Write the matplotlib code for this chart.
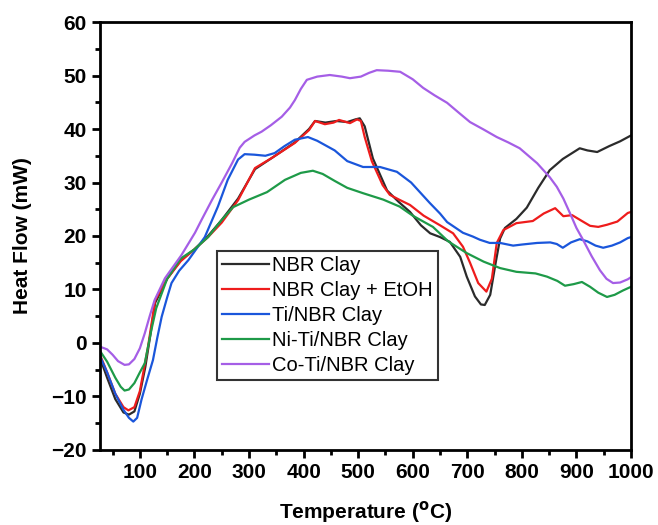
import numpy as np
import matplotlib
matplotlib.use("Agg")
import matplotlib.pyplot as plt
from matplotlib.ticker import MultipleLocator

plt.rcParams['font.family'] = ['Liberation Sans', 'DejaVu Sans']

# ---------------------------------------------------------
# datos (T en C, flujo en mW)
# ---------------------------------------------------------
t_nbr = [27, 40, 55, 70, 80, 90, 100, 110, 120, 128, 150, 175, 200, 225, 250,
         280, 311, 342, 384, 410, 421, 440, 460, 480, 495, 503, 512, 527, 553,
         575, 595, 615, 632, 650, 668, 687, 699, 714, 725, 732, 742, 752, 760,
         769, 790, 809, 830, 851, 875, 906, 920, 938, 960, 980, 1000]
hf_nbr = [-2.8, -6.5, -10.5, -13.0, -13.4, -12.8, -9.5, -4.5, 2.0, 7.5, 12.0,
          15.5, 17.5, 20.0, 23.0, 27.0, 32.5, 34.6, 37.5, 40.0, 41.5, 41.2,
          41.5, 41.3, 41.8, 42.0, 40.5, 34.5, 28.5, 26.3, 24.5, 22.0, 20.5,
          19.8, 18.9, 16.1, 12.4, 8.7, 7.2, 7.1, 9.0, 15.0, 19.5, 21.5, 23.2,
          25.3, 29.0, 32.3, 34.4, 36.4, 36.0, 35.7, 36.8, 37.7, 38.8]

t_etoh = [27, 40, 55, 70, 79, 90, 100, 115, 128, 150, 175, 200, 225, 250, 280,
          311, 342, 384, 410, 421, 439, 455, 465, 485, 498, 505, 512, 525, 545,
          558, 575, 595, 620, 650, 674, 692, 705, 720, 735, 745, 754, 766, 790,
          820, 840, 861, 876, 892, 910, 925, 940, 956, 975, 994, 1000]
hf_etoh = [-2.2, -5.5, -9.5, -12.0, -12.6, -12.0, -9.0, -0.7, 8.0, 12.0, 15.3,
           17.5, 19.8, 22.5, 26.7, 32.7, 34.6, 37.4, 39.8, 41.5, 40.9, 41.2,
           41.7, 41.1, 41.8, 41.5, 38.5, 34.0, 29.5, 27.7, 26.8, 25.8, 23.8,
           22.0, 20.5, 18.0, 15.0, 11.2, 9.6, 12.0, 18.7, 21.1, 22.4, 22.8,
           24.2, 25.2, 23.7, 23.9, 22.8, 21.9, 21.7, 22.1, 22.7, 24.3, 24.5]

t_ti = [27, 40, 55, 70, 80, 88, 95, 103, 113, 124, 132, 140, 150, 158, 172, 189,
        219, 243, 261, 280, 292, 310, 330, 347, 365, 384, 408, 425, 457, 480,
        509, 540, 571, 597, 631, 650, 663, 692, 710, 723, 741, 760, 784, 800,
        828, 852, 864, 875, 890, 906, 920, 935, 949, 965, 980, 994, 1000]
hf_ti = [-2.5, -5.5, -9.5, -12.5, -14.0, -14.7, -14.0, -10.6, -7.0, -3.2, 1.0,
         4.9, 8.5, 11.2, 13.5, 15.5, 19.8, 25.5, 30.5, 34.3, 35.3, 35.2, 35.0,
         35.5, 36.8, 38.0, 38.5, 37.8, 36.0, 34.0, 32.9, 32.9, 32.0, 30.0,
         26.2, 24.2, 22.6, 20.6, 19.9, 19.3, 18.7, 18.7, 18.2, 18.4, 18.7,
         18.8, 18.5, 17.8, 18.8, 19.4, 19.0, 18.2, 17.8, 18.2, 18.8, 19.6, 19.8]

t_ni = [27, 40, 55, 65, 72, 80, 90, 100, 109, 121, 130, 150, 175, 200, 225, 250,
        271, 300, 333, 366, 395, 417, 435, 457, 480, 509, 546, 576, 600, 637,
        665, 699, 730, 760, 790, 825, 846, 865, 879, 895, 910, 925, 940, 956,
        970, 985, 1000]
hf_ni = [-1.5, -3.5, -6.5, -8.2, -8.9, -8.7, -7.5, -5.5, -3.8, 2.4, 6.5, 12.0,
         15.8, 17.5, 19.8, 23.0, 25.4, 26.8, 28.2, 30.5, 31.8, 32.2, 31.6, 30.3,
         29.0, 28.0, 26.8, 25.5, 23.8, 21.7, 19.0, 16.8, 15.2, 14.0, 13.3,
         13.0, 12.4, 11.6, 10.7, 11.0, 11.4, 10.5, 9.4, 8.6, 9.0, 9.8, 10.5]

t_co = [27, 40, 50, 60, 72, 80, 90, 100, 109, 118, 127, 146, 176, 201, 213, 232,
        250, 269, 283, 292, 310, 323, 340, 360, 375, 384, 395, 406, 425, 448,
        470, 485, 505, 520, 534, 555, 577, 600, 619, 640, 663, 685, 705, 730,
        754, 775, 796, 828, 851, 864, 876, 888, 900, 912, 928, 943, 955, 967,
        980, 994, 1000]
hf_co = [-0.7, -1.2, -2.2, -3.4, -4.1, -4.0, -3.0, -1.0, 1.8, 5.0, 8.0, 12.1,
         16.4, 20.6, 23.0, 26.7, 30.0, 33.6, 36.5, 37.6, 38.8, 39.5, 40.7, 42.3,
         44.0, 45.4, 47.5, 49.2, 49.8, 50.1, 49.8, 49.5, 49.8, 50.5, 51.0, 50.9,
         50.7, 49.3, 47.7, 46.3, 44.9, 43.0, 41.3, 39.9, 38.5, 37.5, 36.4, 33.6,
         31.0, 29.2, 27.0, 24.3, 21.5, 19.3, 16.2, 13.6, 12.0, 11.2, 11.3, 11.9,
         12.3]

series = [
    ("NBR Clay", t_nbr, hf_nbr, "#2b2b2b"),
    ("NBR Clay + EtOH", t_etoh, hf_etoh, "#ee1c1c"),
    ("Ti/NBR Clay", t_ti, hf_ti, "#1a56db"),
    ("Ni-Ti/NBR Clay", t_ni, hf_ni, "#1e9a48"),
    ("Co-Ti/NBR Clay", t_co, hf_co, "#a55ee6"),
]

# ---------------------------------------------------------
# grafica
# ---------------------------------------------------------
fig = plt.figure(figsize=(6.58, 5.25), dpi=100)
ax = fig.add_axes([0.152, 0.143, 0.807, 0.815])

for nombre, t, hf, col in series:
    ax.plot(t, hf, color=col, lw=1.6, label=nombre, solid_joinstyle='round')

ax.set_xlim(27, 1000)
ax.set_ylim(-20, 60)
ax.set_xticks(np.arange(100, 1001, 100))
ax.xaxis.set_minor_locator(MultipleLocator(50))
ax.yaxis.set_major_locator(MultipleLocator(10))
ax.yaxis.set_minor_locator(MultipleLocator(5))

for s in ax.spines.values():
    s.set_linewidth(2.0)
ax.tick_params(which='major', direction='out', length=6, width=2,
               labelsize=15, top=False, right=False)
ax.tick_params(which='minor', direction='out', length=3.5, width=2,
               top=False, right=False)
for lab in ax.get_xticklabels() + ax.get_yticklabels():
    lab.set_fontweight('bold')

ax.set_xlabel(r"Temperature ($\mathbf{^{o}}$C)", fontsize=15,
              fontweight='bold', labelpad=12)
ax.set_ylabel("Heat Flow (mW)", fontsize=15, fontweight='bold', labelpad=14)

leg = ax.legend(loc='upper left', bbox_to_anchor=(0.22, 0.465), fontsize=14.5,
                frameon=True, fancybox=False, edgecolor='black',
                handlelength=2.35, handletextpad=0.15, labelspacing=0.3,
                borderpad=0.25, borderaxespad=0)
leg.get_frame().set_linewidth(1.5)

fig.savefig("out.png", dpi=100)
